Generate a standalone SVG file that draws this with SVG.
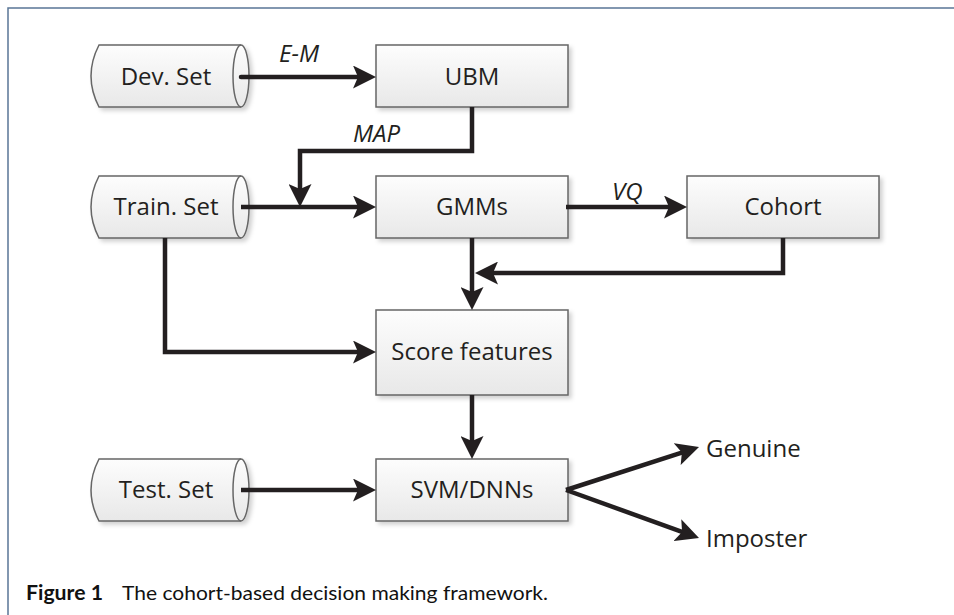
<svg xmlns="http://www.w3.org/2000/svg" width="954" height="615" viewBox="0 0 954 615">
<style>
.frame{fill:none;stroke:#5a7696;stroke-width:1.5}
.box{fill:url(#g);stroke:#666;stroke-width:1.5;filter:url(#sh)}
.cyl{fill:url(#g);stroke:#666;stroke-width:1.5}
.lbl{font-family:"Open Sans",sans-serif;font-size:24px;fill:#231f20;text-anchor:middle}
.out{font-family:"Open Sans",sans-serif;font-size:24px;fill:#231f20}
.it{font-family:"Open Sans",sans-serif;font-size:24px;font-style:italic;fill:#231f20}
.con{fill:none;stroke:#231f20;stroke-width:4.5;stroke-linejoin:miter;marker-end:url(#ah)}
.cap{font-family:"Lato",sans-serif;font-size:20px;fill:#111}
</style>
<defs>
<linearGradient id="g" x1="0" y1="0" x2="0" y2="1">
<stop offset="0" stop-color="#fdfdfd"/>
<stop offset="1" stop-color="#e8e8e8"/>
</linearGradient>
<filter id="sh" x="-10%" y="-10%" width="130%" height="140%">
<feDropShadow dx="3" dy="3" stdDeviation="2" flood-color="#000" flood-opacity="0.18"/>
</filter>
<marker id="ah" markerUnits="userSpaceOnUse" viewBox="0 0 23 23" markerWidth="23" markerHeight="23" refX="13" refY="11.5" orient="auto">
<path d="M0,0 L23,11.5 L0,23 L5,11.5 Z" fill="#231f20"/>
</marker>
</defs>
<path class="frame" d="M8,615 V8 H954"/>
<g id="dev">
<path class="cyl" style="filter:url(#sh)" d="M99,45 Q83,76 99,107 H241 A8,31 0 0 0 241,45 Z"/>
<path class="cyl" style="fill:none" d="M241,45 A8,31 0 0 0 241,107"/>
<text class="lbl" x="166" y="85">Dev. Set</text>
</g>
<g id="ubm">
<rect class="box" x="376" y="45" width="192" height="62"/>
<text class="lbl" x="472" y="85">UBM</text>
</g>
<g id="train">
<path class="cyl" style="filter:url(#sh)" d="M99,176 Q83,207 99,238 H241 A8,31 0 0 0 241,176 Z"/>
<path class="cyl" style="fill:none" d="M241,176 A8,31 0 0 0 241,238"/>
<text class="lbl" x="166" y="215">Train. Set</text>
</g>
<g id="gmms">
<rect class="box" x="376" y="176" width="192" height="62"/>
<text class="lbl" x="472" y="215">GMMs</text>
</g>
<g id="cohort">
<rect class="box" x="687" y="176" width="192" height="62"/>
<text class="lbl" x="783" y="215">Cohort</text>
</g>
<g id="score">
<rect class="box" x="376" y="310" width="192" height="85"/>
<text class="lbl" x="472" y="360">Score features</text>
</g>
<g id="test">
<path class="cyl" style="filter:url(#sh)" d="M99,459 Q83,490 99,521 H241 A8,31 0 0 0 241,459 Z"/>
<path class="cyl" style="fill:none" d="M241,459 A8,31 0 0 0 241,521"/>
<text class="lbl" x="166" y="498">Test. Set</text>
</g>
<g id="svm">
<rect class="box" x="376" y="459" width="192" height="62"/>
<text class="lbl" x="472" y="498">SVM/DNNs</text>
</g>
<g id="genuine"><text class="out" x="706" y="457">Genuine</text></g>
<g id="imposter"><text class="out" x="706" y="547">Imposter</text></g>
<g id="connectors">
<path class="con" d="M241,77 H366" stroke-linecap="round"/>
<path class="con" d="M472,107 V151 H300 V197"/>
<path class="con" d="M241,207 H366"/>
<path class="con" d="M566,207 H677"/>
<path class="con" d="M783,238 V273 H485"/>
<path class="con" d="M472,238 V300"/>
<path class="con" d="M165,238 V352 H366"/>
<path class="con" d="M472,395 V449"/>
<path class="con" d="M241,490 H366"/>
<path class="con" d="M566,490 L689.5,450.1"/>
<path class="con" d="M566,490 L689.6,534.6"/>
<text class="it" x="279" y="62">E-M</text>
<text class="it" x="353" y="142">MAP</text>
<text class="it" x="612" y="200">VQ</text>
</g>
<text class="cap" x="26" y="600"><tspan font-weight="bold" textLength="77" lengthAdjust="spacingAndGlyphs">Figure 1</tspan><tspan x="122" textLength="426" lengthAdjust="spacingAndGlyphs">The cohort-based decision making framework.</tspan></text>
</svg>
